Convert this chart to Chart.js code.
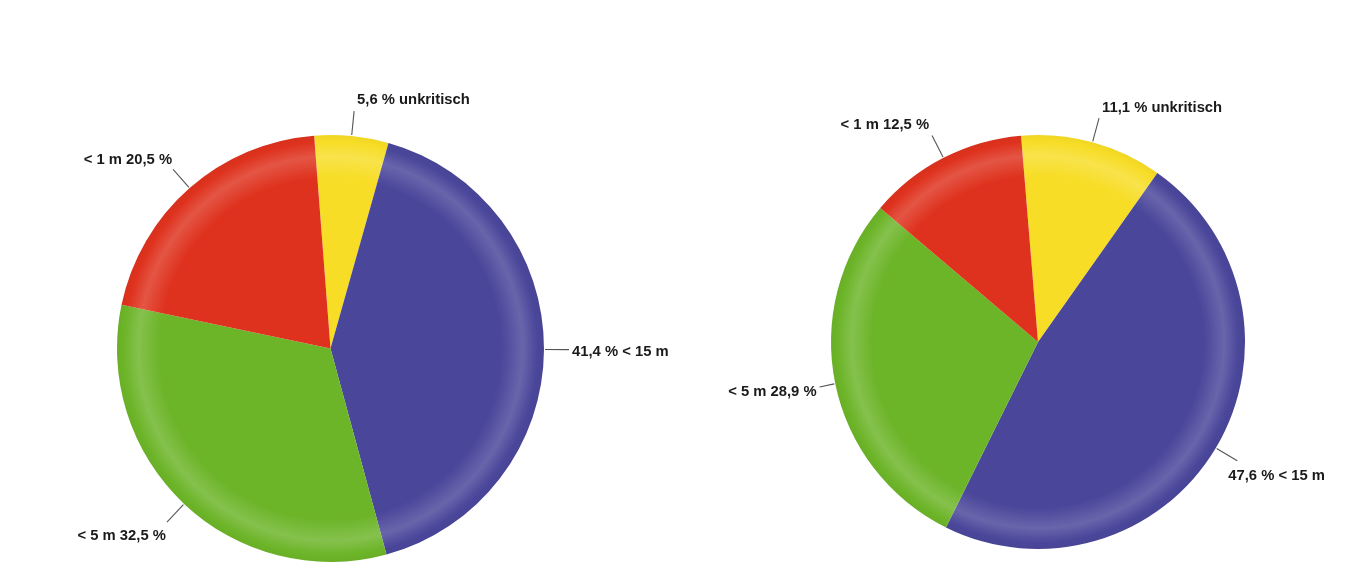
<!DOCTYPE html>
<html>
<head>
<meta charset="utf-8">
<script src="https://cdn.jsdelivr.net/npm/chart.js@4/dist/chart.umd.min.js"></script>
<style>
  html, body { margin: 0; padding: 0; background: #fff; }
  #wrap { position: relative; width: 1370px; height: 581px; overflow: hidden; }
  #wrap canvas { position: absolute; left: 0; top: 0; }
</style>
</head>
<body>
<div id="wrap">
  <canvas id="pieLeft" width="1370" height="581"></canvas>
  <canvas id="pieRight" width="1370" height="581"></canvas>
</div>
<script>
// Kategorien (Reihenfolge im Uhrzeigersinn, ab oben)
const categories = ['unkritisch', '< 15 m', '< 5 m', '< 1 m'];
const labelFormats = ['{v} % unkritisch', '{v} % < 15 m', '< 5 m {v} %', '< 1 m {v} %'];

// Anteile in Prozent
const leftValues = [5.6, 41.4, 32.5, 20.5];
const rightValues = [11.1, 47.6, 28.9, 12.5];

const sliceColors = [
  [247, 221, 38],   // gelb
  [74, 70, 154],    // blau
  [108, 180, 40],   // grün
  [222, 50, 30]     // rot
];

const rgb = (c, f) => {
  // f > 0 aufhellen, f < 0 abdunkeln
  const m = c.map(v => f >= 0 ? Math.round(v + (255 - v) * f) : Math.round(v * (1 + f)));
  return `rgb(${m[0]}, ${m[1]}, ${m[2]})`;
};

// Radialer Verlauf mit weichem hellem Rand wie im Druck
function sliceFill(context) {
  const c = sliceColors[context.dataIndex];
  const area = context.chart.chartArea;
  if (!area) return rgb(c, 0);
  const cx = (area.left + area.right) / 2;
  const cy = (area.top + area.bottom) / 2;
  const r = Math.min(area.right - area.left, area.bottom - area.top) / 2;
  const g = context.chart.ctx.createRadialGradient(cx, cy, 0, cx, cy, r);
  g.addColorStop(0, rgb(c, 0));
  g.addColorStop(0.8, rgb(c, 0));
  g.addColorStop(0.9, rgb(c, 0.17));
  g.addColorStop(0.97, rgb(c, 0));
  g.addColorStop(1, rgb(c, -0.03));
  return g;
}

const fmt = v => v.toFixed(1).replace('.', ',');

// Beschriftungen mit Hinweislinien
const calloutPlugin = {
  id: 'callouts',
  afterDatasetsDraw(chart, args, opts) {
    const ctx = chart.ctx;
    const meta = chart.getDatasetMeta(0);
    const values = chart.data.datasets[0].data;
    const leader = opts.leader || [];
    const nudge = opts.nudge || [];
    ctx.save();
    ctx.font = 'bold 14.8px "Liberation Sans", Arial, sans-serif';
    ctx.fillStyle = '#1a1a1a';
    ctx.strokeStyle = '#555';
    ctx.lineWidth = 1.1;
    meta.data.forEach((arc, i) => {
      const p = arc.getProps(['x', 'y', 'startAngle', 'endAngle', 'outerRadius'], true);
      const mid = (p.startAngle + p.endAngle) / 2;
      const dx = Math.cos(mid), dy = Math.sin(mid);
      const len = leader[i] || 25;
      const x1 = p.x + dx * (p.outerRadius + 1), y1 = p.y + dy * (p.outerRadius + 1);
      const x2 = p.x + dx * (p.outerRadius + len), y2 = p.y + dy * (p.outerRadius + len);
      ctx.beginPath();
      ctx.moveTo(x1, y1);
      ctx.lineTo(x2, y2);
      ctx.stroke();
      const n = nudge[i] || [0, 0];
      const text = labelFormats[i].replace('{v}', fmt(values[i]));
      ctx.textAlign = dx >= 0 ? 'left' : 'right';
      ctx.textBaseline = 'middle';
      ctx.fillText(text, x2 + (dx >= 0 ? 3 : -3) + n[0], y2 + dy * 12 + n[1]);
    });
    ctx.restore();
  }
};

function makePie(id, values, rotation, padding, callouts) {
  return new Chart(document.getElementById(id), {
    type: 'pie',
    data: {
      labels: categories,
      datasets: [{
        data: values,
        backgroundColor: sliceFill,
        borderWidth: 0
      }]
    },
    options: {
      responsive: false,
      animation: false,
      rotation: rotation,
      layout: { padding: padding },
      plugins: {
        legend: { display: false },
        tooltip: { enabled: false },
        callouts: callouts
      }
    },
    plugins: [calloutPlugin]
  });
}

makePie('pieLeft', leftValues, -4.4, { left: 117, right: 826, top: 135, bottom: 19 },
  { nudge: [[0, 1], [0, 2], [2, 5], [2, 0]] });
makePie('pieRight', rightValues, -4.7, { left: 831, right: 125, top: 135, bottom: 32 },
  { leader: [25, 25, 16, 25], nudge: [[0, 1], [-12, 9], [0, 3], [0, 0]] });
</script>
</body>
</html>
